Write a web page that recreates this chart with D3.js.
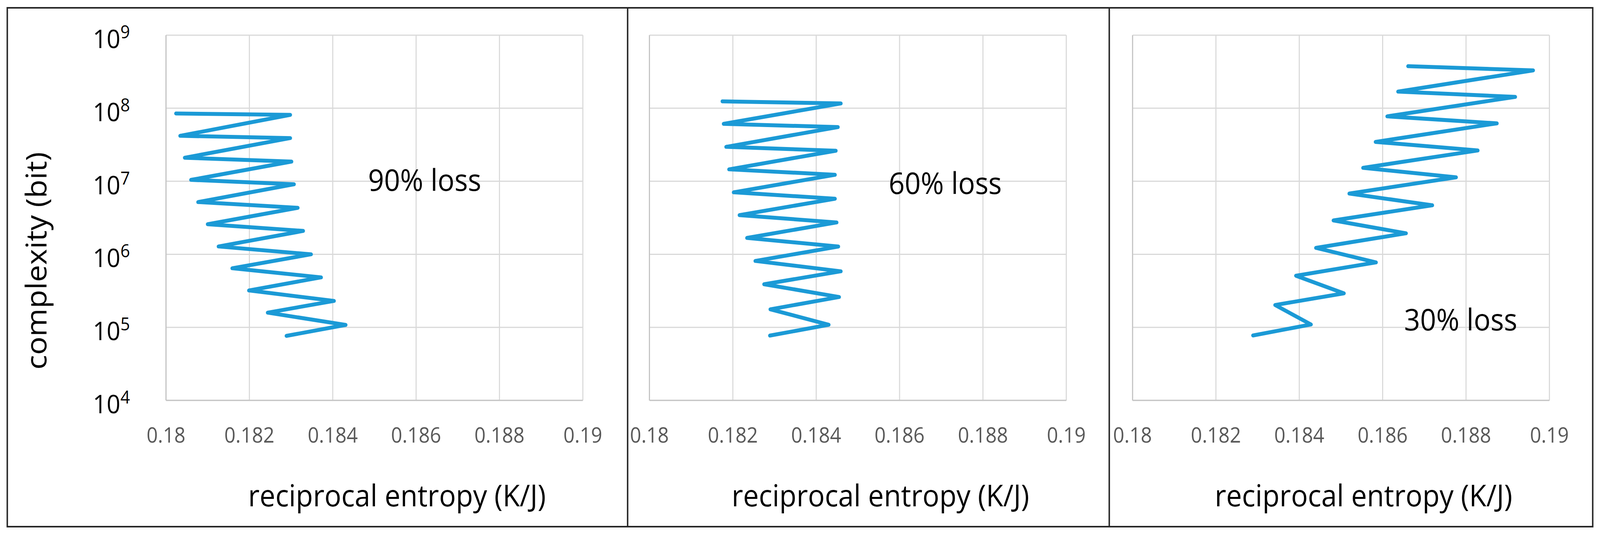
<!DOCTYPE html>
<html>
<head>
<meta charset="utf-8">
<title>complexity vs reciprocal entropy</title>
<style>
  html, body { margin: 0; padding: 0; background: #fff; overflow: hidden; }
  svg { display: block; width: 100vw; height: 100vh; }
  text { font-family: "Open Sans", "Noto Sans", sans-serif; }
</style>
<script src="https://d3js.org/d3.v7.min.js"></script>
</head>
<body>
<script>

// reciprocal entropy (K/J) and complexity (bit)
const entropy90 = [0.18024, 0.18298, 0.18034, 0.18298, 0.18045, 0.18301, 0.18060, 0.18307, 0.18077, 0.18316,
                   0.18100, 0.18329, 0.18126, 0.18348, 0.18159, 0.18372, 0.18199, 0.18403, 0.18244, 0.18431, 0.18289];
const complexity90 = [8.47e7, 8.11e7, 4.19e7, 3.90e7, 2.10e7, 1.86e7, 1.045e7, 9.10e6, 5.19e6, 4.33e6,
                      2.58e6, 2.09e6, 1.28e6, 1.0e6, 6.44e5, 4.83e5, 3.20e5, 2.30e5, 1.59e5, 1.08e5, 7.64e4];

const entropy60 = [0.18175, 0.18459, 0.18178, 0.18452, 0.18184, 0.18447, 0.18191, 0.18445, 0.18202, 0.18445,
                   0.18216, 0.18449, 0.18234, 0.18453, 0.18254, 0.18459, 0.18275, 0.18455, 0.18290, 0.18430, 0.18289];
const complexity60 = [1.242e8, 1.163e8, 6.11e7, 5.52e7, 2.96e7, 2.62e7, 1.456e7, 1.227e7, 7.06e6, 5.77e6,
                      3.44e6, 2.73e6, 1.675e6, 1.277e6, 8.11e5, 5.85e5, 3.89e5, 2.60e5, 1.766e5, 1.084e5, 7.71e4];

const entropy30 = [0.18661, 0.18961, 0.18637, 0.18918, 0.18611, 0.18874, 0.18583, 0.18828, 0.18553, 0.18776,
                   0.18520, 0.18719, 0.18482, 0.18656, 0.18440, 0.18584, 0.18392, 0.18507, 0.18342, 0.18428, 0.18289];
const complexity30 = [3.76e8, 3.30e8, 1.69e8, 1.43e8, 7.74e7, 6.21e7, 3.46e7, 2.64e7, 1.528e7, 1.133e7,
                      6.79e6, 4.69e6, 2.91e6, 1.94e6, 1.225e6, 7.74e5, 5.09e5, 2.92e5, 2.02e5, 1.094e5, 7.74e4];

const xTicks = [0.18, 0.182, 0.184, 0.186, 0.188, 0.19];
const xTickLabels = ["0.18", "0.182", "0.184", "0.186", "0.188", "0.19"];
const yTicks = [1e4, 1e5, 1e6, 1e7, 1e8, 1e9];
const yExponents = ["4", "5", "6", "7", "8", "9"];
const lossLabels = ["90% loss", "60% loss", "30% loss"];

const W = 4395, H = 1376;
const plotW = 1145, plotTop = 90, plotBottom = 1024;
const lineColor = "#1b9ad6";

const panels = [
  { left: 456,  x: entropy90, y: complexity90, label: lossLabels[0], lx: 1011, ly: 488 },
  { left: 1784, x: entropy60, y: complexity60, label: lossLabels[1], lx: 2441, ly: 496 },
  { left: 3111, x: entropy30, y: complexity30, label: lossLabels[2], lx: 3857, ly: 845 }
];

// fixed drawing size, stretched onto whatever the window is
const svg = d3.select("body").append("svg")
  .attr("viewBox", "0 0 " + W + " " + H)
  .attr("preserveAspectRatio", "none");

svg.append("rect").attr("width", W).attr("height", H).attr("fill", "#fff");

let y = d3.scaleLog().domain([1e4, 1e9]).range([plotBottom, plotTop]);

panels.forEach((p, pi) => {
  let x = d3.scaleLinear().domain([0.18, 0.19]).range([p.left, p.left + plotW]);
  let g = svg.append("g");

  // gridlines
  g.append("g").selectAll("line").data(yTicks).join("line")
    .attr("x1", p.left).attr("x2", p.left + plotW)
    .attr("y1", d => y(d)).attr("y2", d => y(d))
    .attr("stroke", "#d9d9d9").attr("stroke-width", 3);
  g.append("g").selectAll("line").data(xTicks).join("line")
    .attr("x1", d => x(d)).attr("x2", d => x(d))
    .attr("y1", plotTop).attr("y2", plotBottom)
    .attr("stroke", "#d9d9d9").attr("stroke-width", 3);

  // axis lines
  g.append("line").attr("x1", p.left).attr("x2", p.left)
    .attr("y1", plotTop).attr("y2", plotBottom)
    .attr("stroke", "#c4c4c4").attr("stroke-width", 3);
  g.append("line").attr("x1", p.left).attr("x2", p.left + plotW)
    .attr("y1", plotBottom).attr("y2", plotBottom)
    .attr("stroke", "#c4c4c4").attr("stroke-width", 3);

  // x tick labels
  g.append("g").selectAll("text").data(xTicks).join("text")
    .attr("x", d => x(d)).attr("y", 1132)
    .attr("text-anchor", "middle")
    .attr("font-size", 54).attr("fill", "#595959")
    .text((d, i) => xTickLabels[i]);

  // x axis title
  g.append("text")
    .attr("x", p.left + plotW / 2 + 62).attr("y", 1295)
    .attr("text-anchor", "middle").attr("font-size", 77).attr("fill", "#000")
    .text("reciprocal entropy (K/J)");

  // the series
  let pts = p.x.map((v, i) => [v, p.y[i]]);
  g.append("path").datum(pts)
    .attr("d", d3.line().x(d => x(d[0])).y(d => y(d[1])))
    .attr("fill", "none").attr("stroke", lineColor).attr("stroke-width", 10)
    .attr("stroke-linejoin", "round").attr("stroke-linecap", "round");

  g.append("text").attr("x", p.lx).attr("y", p.ly)
    .attr("font-size", 77).attr("fill", "#000").text(p.label);

  if (pi == 0) {
    let t = g.append("g").selectAll("text").data(yTicks).join("text")
      .attr("x", p.left - 99).attr("y", d => y(d) + 33)
      .attr("text-anchor", "end").attr("font-size", 66).attr("fill", "#000");
    t.append("tspan").text("10");
    t.append("tspan").attr("font-size", 46).attr("dy", -25).text((d, i) => yExponents[i]);

    g.append("text")
      .attr("transform", "translate(128,667) rotate(-90)")
      .attr("text-anchor", "middle").attr("font-size", 78).attr("fill", "#000")
      .text("complexity (bit)");
  }
});

// outer frame and panel dividers
svg.append("rect").attr("x", 20).attr("y", 20).attr("width", 4355).attr("height", 1327)
  .attr("fill", "none").attr("stroke", "#262626").attr("stroke-width", 4);
svg.append("g").selectAll("line").data([1724, 3047]).join("line")
  .attr("x1", d => d).attr("x2", d => d).attr("y1", 20).attr("y2", 1347)
  .attr("stroke", "#262626").attr("stroke-width", 4);

</script>
</body>
</html>
